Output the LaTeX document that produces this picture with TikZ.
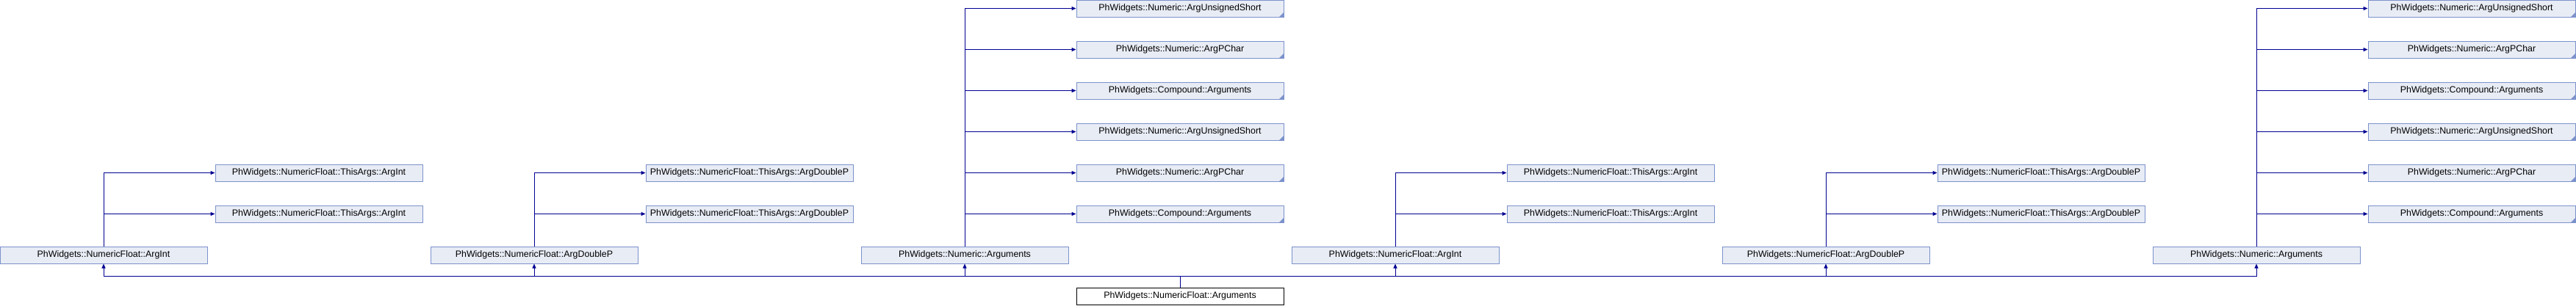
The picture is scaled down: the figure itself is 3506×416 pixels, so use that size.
\documentclass[tikz,border=0pt]{standalone}
\usepackage{fontspec}
\setmainfont{Liberation Sans}
\usetikzlibrary{arrows.meta, positioning, calc}
\definecolor{clsfill}{RGB}{232, 236, 245}
\definecolor{clsline}{RGB}{124, 146, 204}
\definecolor{edgeblue}{RGB}{0, 0, 145}
\newcommand{\clsfont}{\fontsize{12.4pt}{14pt}\selectfont}
\tikzset{
  cls/.style={draw=clsline, fill=clsfill, line width=1pt, minimum width=282pt, minimum height=23pt, inner sep=0pt, font=\clsfont},
  clsmore/.style={cls, path picture={\fill[clsline] (path picture bounding box.south east) -- ++(-6pt,0pt) -- ++(6pt,6pt) -- cycle;}},
  clsroot/.style={cls, draw=black, fill=white},
  inherit/.style={draw=edgeblue, line width=1pt, -{Triangle[length=6pt, width=5pt]}}
}

\begin{document}
\begin{tikzpicture}[x=1pt, y=-1pt]
  \useasboundingbox (0,0) rectangle (3506,416);

  % ArgInt
  \node[cls] (argint1) at (141, 347.5) {PhWidgets::NumericFloat::ArgInt};
  \node[cls] (argint1a) at (434, 235.5) {PhWidgets::NumericFloat::ThisArgs::ArgInt};
  \node[cls] (argint1b) at (434, 291.5) {PhWidgets::NumericFloat::ThisArgs::ArgInt};

  % ArgDoubleP
  \node[cls] (argdbl1) at (727, 347.5) {PhWidgets::NumericFloat::ArgDoubleP};
  \node[cls] (argdbl1a) at (1020, 235.5) {PhWidgets::NumericFloat::ThisArgs::ArgDoubleP};
  \node[cls] (argdbl1b) at (1020, 291.5) {PhWidgets::NumericFloat::ThisArgs::ArgDoubleP};

  % Numeric::Arguments
  \node[cls] (numargs1) at (1313, 347.5) {PhWidgets::Numeric::Arguments};
  \node[clsmore] (numargs1a) at (1606, 11.5) {PhWidgets::Numeric::ArgUnsignedShort};
  \node[clsmore] (numargs1b) at (1606, 67.5) {PhWidgets::Numeric::ArgPChar};
  \node[clsmore] (numargs1c) at (1606, 123.5) {PhWidgets::Compound::Arguments};
  \node[clsmore] (numargs1d) at (1606, 179.5) {PhWidgets::Numeric::ArgUnsignedShort};
  \node[clsmore] (numargs1e) at (1606, 235.5) {PhWidgets::Numeric::ArgPChar};
  \node[clsmore] (numargs1f) at (1606, 291.5) {PhWidgets::Compound::Arguments};

  % second copy
  \node[cls] (argint2) at (1899, 347.5) {PhWidgets::NumericFloat::ArgInt};
  \node[cls] (argint2a) at (2192, 235.5) {PhWidgets::NumericFloat::ThisArgs::ArgInt};
  \node[cls] (argint2b) at (2192, 291.5) {PhWidgets::NumericFloat::ThisArgs::ArgInt};

  \node[cls] (argdbl2) at (2485, 347.5) {PhWidgets::NumericFloat::ArgDoubleP};
  \node[cls] (argdbl2a) at (2778, 235.5) {PhWidgets::NumericFloat::ThisArgs::ArgDoubleP};
  \node[cls] (argdbl2b) at (2778, 291.5) {PhWidgets::NumericFloat::ThisArgs::ArgDoubleP};

  \node[cls] (numargs2) at (3071, 347.5) {PhWidgets::Numeric::Arguments};
  \node[clsmore] (numargs2a) at (3364, 11.5) {PhWidgets::Numeric::ArgUnsignedShort};
  \node[clsmore] (numargs2b) at (3364, 67.5) {PhWidgets::Numeric::ArgPChar};
  \node[clsmore] (numargs2c) at (3364, 123.5) {PhWidgets::Compound::Arguments};
  \node[clsmore] (numargs2d) at (3364, 179.5) {PhWidgets::Numeric::ArgUnsignedShort};
  \node[clsmore] (numargs2e) at (3364, 235.5) {PhWidgets::Numeric::ArgPChar};
  \node[clsmore] (numargs2f) at (3364, 291.5) {PhWidgets::Compound::Arguments};

  % Root
  \node[clsroot] (root) at (1606, 403.5) {PhWidgets::NumericFloat::Arguments};
  \coordinate (bus) at (1606, 376);

  % children
  \draw[inherit] (argint1.north) |- (argint1a.west);
  \draw[inherit] (argint1.north) |- (argint1b.west);
  \draw[inherit] (argdbl1.north) |- (argdbl1a.west);
  \draw[inherit] (argdbl1.north) |- (argdbl1b.west);
  \draw[inherit] (numargs1.north) |- (numargs1a.west);
  \draw[inherit] (numargs1.north) |- (numargs1b.west);
  \draw[inherit] (numargs1.north) |- (numargs1c.west);
  \draw[inherit] (numargs1.north) |- (numargs1d.west);
  \draw[inherit] (numargs1.north) |- (numargs1e.west);
  \draw[inherit] (numargs1.north) |- (numargs1f.west);
  \draw[inherit] (argint2.north) |- (argint2a.west);
  \draw[inherit] (argint2.north) |- (argint2b.west);
  \draw[inherit] (argdbl2.north) |- (argdbl2a.west);
  \draw[inherit] (argdbl2.north) |- (argdbl2b.west);
  \draw[inherit] (numargs2.north) |- (numargs2a.west);
  \draw[inherit] (numargs2.north) |- (numargs2b.west);
  \draw[inherit] (numargs2.north) |- (numargs2c.west);
  \draw[inherit] (numargs2.north) |- (numargs2d.west);
  \draw[inherit] (numargs2.north) |- (numargs2e.west);
  \draw[inherit] (numargs2.north) |- (numargs2f.west);

  % bus to the bases
  \draw[inherit] (root.north) -- (bus) -| (argint1.south);
  \draw[inherit] (root.north) -- (bus) -| (argdbl1.south);
  \draw[inherit] (root.north) -- (bus) -| (numargs1.south);
  \draw[inherit] (root.north) -- (bus) -| (argint2.south);
  \draw[inherit] (root.north) -- (bus) -| (argdbl2.south);
  \draw[inherit] (root.north) -- (bus) -| (numargs2.south);
\end{tikzpicture}
\end{document}
